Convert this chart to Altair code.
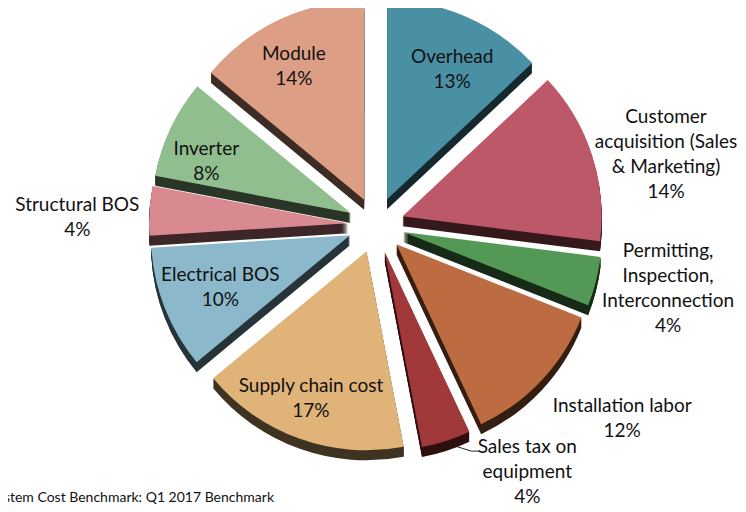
import altair as alt
import pandas as pd

# ---- data -------------------------------------------------------------
categories = [
    "Overhead",
    "Customer acquisition (Sales & Marketing)",
    "Permitting, Inspection, Interconnection",
    "Installation labor",
    "Sales tax on equipment",
    "Supply chain cost",
    "Electrical BOS",
    "Structural BOS",
    "Inverter",
    "Module",
]
label_text = [
    "Overhead",
    "Customer\nacquisition (Sales\n& Marketing)",
    "Permitting,\nInspection,\nInterconnection",
    "Installation labor",
    "Sales tax on\nequipment",
    "Supply chain cost",
    "Electrical BOS",
    "Structural BOS",
    "Inverter",
    "Module",
]
shares = [13, 14, 4, 12, 4, 17, 10, 4, 8, 14]
footer_text = "System Cost Benchmark: Q1 2017 Benchmark"

# ---- style / layout -----------------------------------------------------
face_colors = ["#4A90A4", "#BC5867", "#539955", "#BD6C42", "#A1383A",
               "#E0B379", "#8BB8CA", "#D98A91", "#91BE8E", "#DC9E85"]


def darken(hex_color, f=0.28):
    r, g, b = (int(hex_color[i:i + 2], 16) for i in (1, 3, 5))
    return "#{:02x}{:02x}{:02x}".format(int(r * f), int(g * f), int(b * f))


side_colors = [darken(c) for c in face_colors]

label_radius = [150, 271.7, 270, 282, 258.4, 153, 138, 271, 155, 155]
label_nudge_deg = [2.3, 3.8, -3.3, -6.4, -15.5, 1.5, 1.6, -1.3, -3.8, -1.7]
has_leader = [False, False, False, False, True, False, False, False, False, False]

RADIUS = 199
EXPLODE = 28
DEPTH = 10
FONT = "Lato"
FONT_SIZE = 19
LINE_H = 25

df = pd.DataFrame({
    "order": list(range(len(categories))),
    "category": categories,
    "share": shares,
    "text": [f"{t}\n{s}%" for t, s in zip(label_text, shares)],
    "nlines": [t.count("\n") + 2 for t in label_text],
    "lr": label_radius,
    "nudge": label_nudge_deg,
    "leader": has_leader,
})

W, H = 730, 496
CX, CY = 368, 217  # pie centre inside the plot area (pixels)
LABEL_CY = 220     # centre that the label polar offsets refer to
xs = alt.Scale(domain=[-CX, W - CX], nice=False, zero=False)
ys = alt.Scale(domain=[-(H - CY), CY], nice=False, zero=False)
ts = alt.Scale(domain=[0, 100], range=[0, 6.283185307179586])

base = alt.Chart(df).transform_window(
    cum="sum(share)", sort=[alt.SortField("order")], frame=[None, 0]
).transform_calculate(
    start="datum.cum - datum.share",
    end="datum.cum",
    mid="(datum.cum - datum.share / 2) / 100 * 2 * PI",
).transform_calculate(
    ex=f"{EXPLODE} * sin(datum.mid)",
    ey=f"{EXPLODE} * cos(datum.mid)",
    la="datum.mid + datum.nudge * PI / 180",
).transform_calculate(
    lx="datum.ex + datum.lr * sin(datum.la)",
    ly=f"datum.ey + datum.lr * cos(datum.la) - {LABEL_CY - CY}",
    ax=f"datum.ex + {RADIUS + 8} * sin(datum.mid - 2 * PI / 180)",
    ay=f"datum.ey + {RADIUS + 8} * cos(datum.mid - 2 * PI / 180)",
).transform_calculate(
    ty=f"datum.ly + (datum.nlines - 1) * {LINE_H} / 2",
    bx="datum.lx - 56",
    by="datum.ly + 19",
    cx2="datum.lx - 48",
)

pos = dict(
    x=alt.X("ex:Q", scale=xs, axis=None),
    y=alt.Y("ey:Q", scale=ys, axis=None),
    theta=alt.Theta("start:Q", scale=ts),
    theta2="end:Q",
)

layers = []
for off in range(1, DEPTH + 1):
    layers.append(
        base.mark_arc(radius=RADIUS, yOffset=off).encode(
            color=alt.Color("category:N", scale=alt.Scale(domain=categories, range=side_colors), legend=None),
            **pos,
        )
    )

faces = base.mark_arc(radius=RADIUS).encode(
    color=alt.Color("category:N", scale=alt.Scale(domain=categories, range=face_colors), legend=None),
    **pos,
)
layers.append(faces)

leader1 = base.transform_filter("datum.leader").mark_rule(color="#222222", strokeWidth=1).encode(
    x=alt.X("ax:Q", scale=xs, axis=None), y=alt.Y("ay:Q", scale=ys, axis=None),
    x2="bx:Q", y2="by:Q",
)
leader2 = base.transform_filter("datum.leader").mark_rule(color="#222222", strokeWidth=1).encode(
    x=alt.X("bx:Q", scale=xs, axis=None), y=alt.Y("by:Q", scale=ys, axis=None),
    x2="cx2:Q", y2="by:Q",
)
layers += [leader1, leader2]

labels = base.mark_text(
    font=FONT, fontSize=FONT_SIZE, lineHeight=LINE_H, lineBreak="\n",
    align="center", baseline="middle", color="#111111", dy=2,
).encode(
    x=alt.X("lx:Q", scale=xs, axis=None),
    y=alt.Y("ty:Q", scale=ys, axis=None),
    text="text:N",
)
layers.append(labels)

footer = alt.Chart(pd.DataFrame({"t": [footer_text]})).mark_text(
    font=FONT, fontSize=14, align="right", baseline="alphabetic", color="#111111",
).encode(x=alt.value(266), y=alt.value(494), text="t:N")
layers.append(footer)

chart = alt.layer(*layers).resolve_scale(color="independent").properties(
    width=W, height=H, padding=0,
    autosize=alt.AutoSizeParams(type="none"),
    background="white",
).configure_view(stroke=None)

chart.save("out.html", embed_options={"renderer": "svg", "actions": False})
